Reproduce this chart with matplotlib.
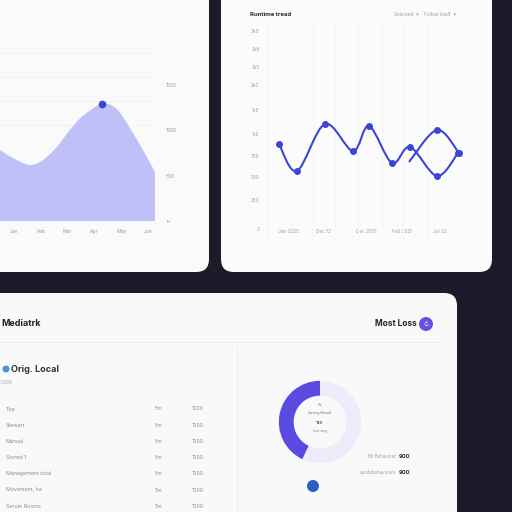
import numpy as np
import matplotlib
matplotlib.use("Agg")
import matplotlib.pyplot as plt
from matplotlib.patches import FancyBboxPatch, PathPatch, Circle
from matplotlib.path import Path

plt.rcParams['font.family'] = ['Inter', 'DejaVu Sans']

# ---- data ----
area_x = [-0.52, -0.04, 0.60, 1.08, 1.60, 2.09, 2.57, 3.28, 3.84, 4.44, 4.96, 5.26]
area_y = [785, 696, 619, 674, 818, 1006, 1160, 1293, 1235, 972, 707, 541]
peak_idx = 7
area_xticks = ["Jan", "Feb", "Mar", "Apr", "May", "Jun"]
area_yticks = [0, 500, 1000, 1500]
area_ylabels = ["\u2190", "500", "1000", "1500"]
area_grid = [1060, 1330, 1590, 1855]

line_a_x = [14, 32, 60, 88, 104, 127, 145, 172, 193]
line_a_y = [96, 69, 116, 89, 114, 77, 93, 64, 87]
line_b_x = [144, 172, 194]
line_b_y = [78, 110, 87]
line_xticks = [23, 58, 101, 137, 175]
line_xlabels = ["Jan 2020", "Dec 12", "Dec 2021", "Feb 2021", "Jul 22"]
line_yticks = [209, 191, 173, 155, 130, 106, 84, 63, 40, 11]
line_ylabels = ["3k0", "2k8", "2k5", "2k0", "1k5", "1k0", "750", "500", "250", "0"]

table_names = ["Top", "Stewart", "Manual", "Stored 1", "Management total",
               "Movement, ha", "Serum Rooms"]
table_col2 = ["5m"] * 7
table_col3 = ["1000"] * 7

donut_share = [43, 57]
legend_names = ["Bit Behaviour", "Landsbehaviours"]
legend_vals = ["900", "900"]

BG = "#1c1b29"
PURPLE = "#5b4ae0"
BLUE = "#3b47d2"
GREY = "#9a9aa6"

fig = plt.figure(figsize=(5.12, 5.12), dpi=100)
fig.patch.set_facecolor(BG)


def box(x0, y0, x1, y1):
    return [x0 / 512, 1 - y1 / 512, (x1 - x0) / 512, (y1 - y0) / 512]


def card(x0, y0, x1, y1, color):
    p = FancyBboxPatch((x0 / 512, 1 - y1 / 512), (x1 - x0) / 512, (y1 - y0) / 512,
                       boxstyle="round,pad=0,rounding_size=0.025",
                       transform=fig.transFigure, facecolor=color, edgecolor="none",
                       zorder=-10)
    fig.add_artist(p)


def ftext(x, y, s, **kw):
    fig.text(x / 512, 1 - y / 512, s, **kw)


def smooth(xs, ys):
    # catmull-rom through the points, as cubic bezier segments
    pts = np.column_stack([xs, ys]).astype(float)
    verts = [pts[0]]
    codes = [Path.MOVETO]
    n = len(pts)
    for i in range(n - 1):
        p0, p1 = pts[max(i - 1, 0)], pts[i]
        p2, p3 = pts[i + 1], pts[min(i + 2, n - 1)]
        verts += [p1 + (p2 - p0) / 6, p2 - (p3 - p1) / 6, p2]
        codes += [Path.CURVE4] * 3
    return verts, codes


card(-30, -30, 209, 272, "#fafafa")
card(221, -30, 492, 272, "#fbfbfb")
card(-30, 293, 457, 540, "#f9f9fa")

# ---- area chart ----
ax1 = fig.add_axes(box(0, 40, 160, 221))
ax1.set_facecolor("none")
for v in area_grid:
    ax1.axhline(v, xmax=0.97, color="#f1f1f4", lw=0.6, zorder=0)
verts, codes = smooth(area_x, area_y)
verts += [(area_x[-1], 0), (area_x[0], 0), (area_x[0], 0)]
codes += [Path.LINETO, Path.LINETO, Path.CLOSEPOLY]
ax1.add_patch(PathPatch(Path(verts, codes), facecolor="#bfc0f7", edgecolor="none", zorder=2))
ax1.plot(area_x[peak_idx], area_y[peak_idx], "o", color=BLUE, ms=4.5, zorder=3)
ax1.set_xlim(-0.52, 5.45)
ax1.set_ylim(0, 2000)
ax1.set_xticks(range(6), area_xticks)
ax1.yaxis.tick_right()
ax1.set_yticks(area_yticks, area_ylabels)
ax1.tick_params(length=0, labelsize=3.6, colors=GREY)
ax1.tick_params(axis="x", pad=6)
ax1.tick_params(axis="y", pad=4)
for s in ax1.spines.values():
    s.set_visible(False)

# ---- line chart ----
ax2 = fig.add_axes(box(265, 20, 470, 240))
ax2.set_facecolor("none")
ax2.set_xlim(0, 205)
ax2.set_ylim(0, 220)
ax2.set_xticks(line_xticks, line_xlabels)
ax2.set_xticks([2, 25, 48, 70, 93, 117, 138, 162, 185], minor=True)
ax2.set_yticks(line_yticks, line_ylabels)
ax2.grid(which="minor", axis="x", color="#f5f5f8", lw=0.6)
ax2.tick_params(which="both", length=0, labelsize=3.4, colors="#a0a0aa")
ax2.tick_params(axis="x", pad=-8)
ax2.tick_params(axis="y", pad=4)
for s in ax2.spines.values():
    s.set_visible(False)
for xs, ys in [(line_a_x, line_a_y), (line_b_x, line_b_y)]:
    verts, codes = smooth(xs, ys)
    ax2.add_patch(PathPatch(Path(verts, codes), facecolor="none", edgecolor=BLUE, lw=1.5, zorder=3))
ax2.plot(line_a_x, line_a_y, "o", color=BLUE, ms=4, lw=0, zorder=4)
ax2.plot(line_b_x[1:], line_b_y[1:], "o", color=BLUE, ms=4, lw=0, zorder=4)

ftext(250, 14, "Runtime tread", fontsize=4.3, fontweight="bold", color="#2a2a35", va="center")
ftext(394, 14, "Selected  \u25be", fontsize=3.4, color="#9a9aa8", va="center")
ftext(424, 14, "Follow itself  \u25be", fontsize=3.4, color="#9a9aa8", va="center")

# ---- bottom card ----
ftext(1, 324, "Mediatrk", fontsize=6.5, fontweight="bold", color="#222230", va="center")
ftext(417, 324, "Most Loss", fontsize=6, fontweight="bold", color="#222230", va="center", ha="right")
fig.add_artist(Circle((426 / 512, 1 - 324 / 512), 7 / 512, transform=fig.transFigure,
                      facecolor="#6a4fe4", edgecolor="none"))
ftext(426, 324, "\u21bb", fontsize=4, color="white", ha="center", va="center")
fig.add_artist(plt.Line2D([0, 440 / 512], [1 - 342 / 512] * 2, color="#ededf1", lw=0.7))
fig.add_artist(plt.Line2D([237 / 512] * 2, [1 - 345 / 512, 0], color="#efeff3", lw=0.7))

fig.add_artist(Circle((6 / 512, 1 - 369 / 512), 3.5 / 512, transform=fig.transFigure,
                      facecolor="#4a90e2", edgecolor="none"))
ftext(11, 369, "Orig. Local", fontsize=6.5, fontweight="bold", color="#33333f", va="center")
ftext(0, 383, "1-000", fontsize=3.4, color="#a0a0aa", va="center")
for i, (n, c2, c3) in enumerate(zip(table_names, table_col2, table_col3)):
    y = 409 + i * 16.2
    ftext(6, y, n, fontsize=3.8, color="#8a8a96", va="center")
    ftext(155, y, c2, fontsize=3.8, color="#8a8a96", va="center")
    ftext(192, y, c3, fontsize=3.8, color="#8a8a96", va="center")

# donut
ax3 = fig.add_axes(box(278, 380, 362, 464))
ax3.pie(donut_share, colors=[PURPLE, "#ececfa"], startangle=90, counterclock=True,
        wedgeprops=dict(width=0.36, edgecolor="none"))
ax3.set_xlim(-1.02, 1.02)
ax3.set_ylim(-1.02, 1.02)
ax3.set_aspect("equal")
ax3.text(0, 0.38, "W", fontsize=2.6, color="#777", ha="center")
ax3.text(0, 0.2, "Saving Result", fontsize=2.6, color="#777", ha="center")
ax3.text(0, -0.05, "140", fontsize=3, color="#555", ha="center", fontweight="bold")
ax3.text(0, -0.25, "Learning", fontsize=2.6, color="#888", ha="center")

for i, (n, v) in enumerate(zip(legend_names, legend_vals)):
    y = 457 + i * 16
    ftext(396, y, n, fontsize=3.2, color="#a0a0aa", va="center", ha="right")
    ftext(399, y, v, fontsize=4.2, color="#33333f", va="center", fontweight="bold")
fig.add_artist(Circle((313 / 512, 1 - 486 / 512), 6 / 512, transform=fig.transFigure,
                      facecolor="#2a5fc0", edgecolor="none"))

fig.savefig("out.png", dpi=100, facecolor=BG)
